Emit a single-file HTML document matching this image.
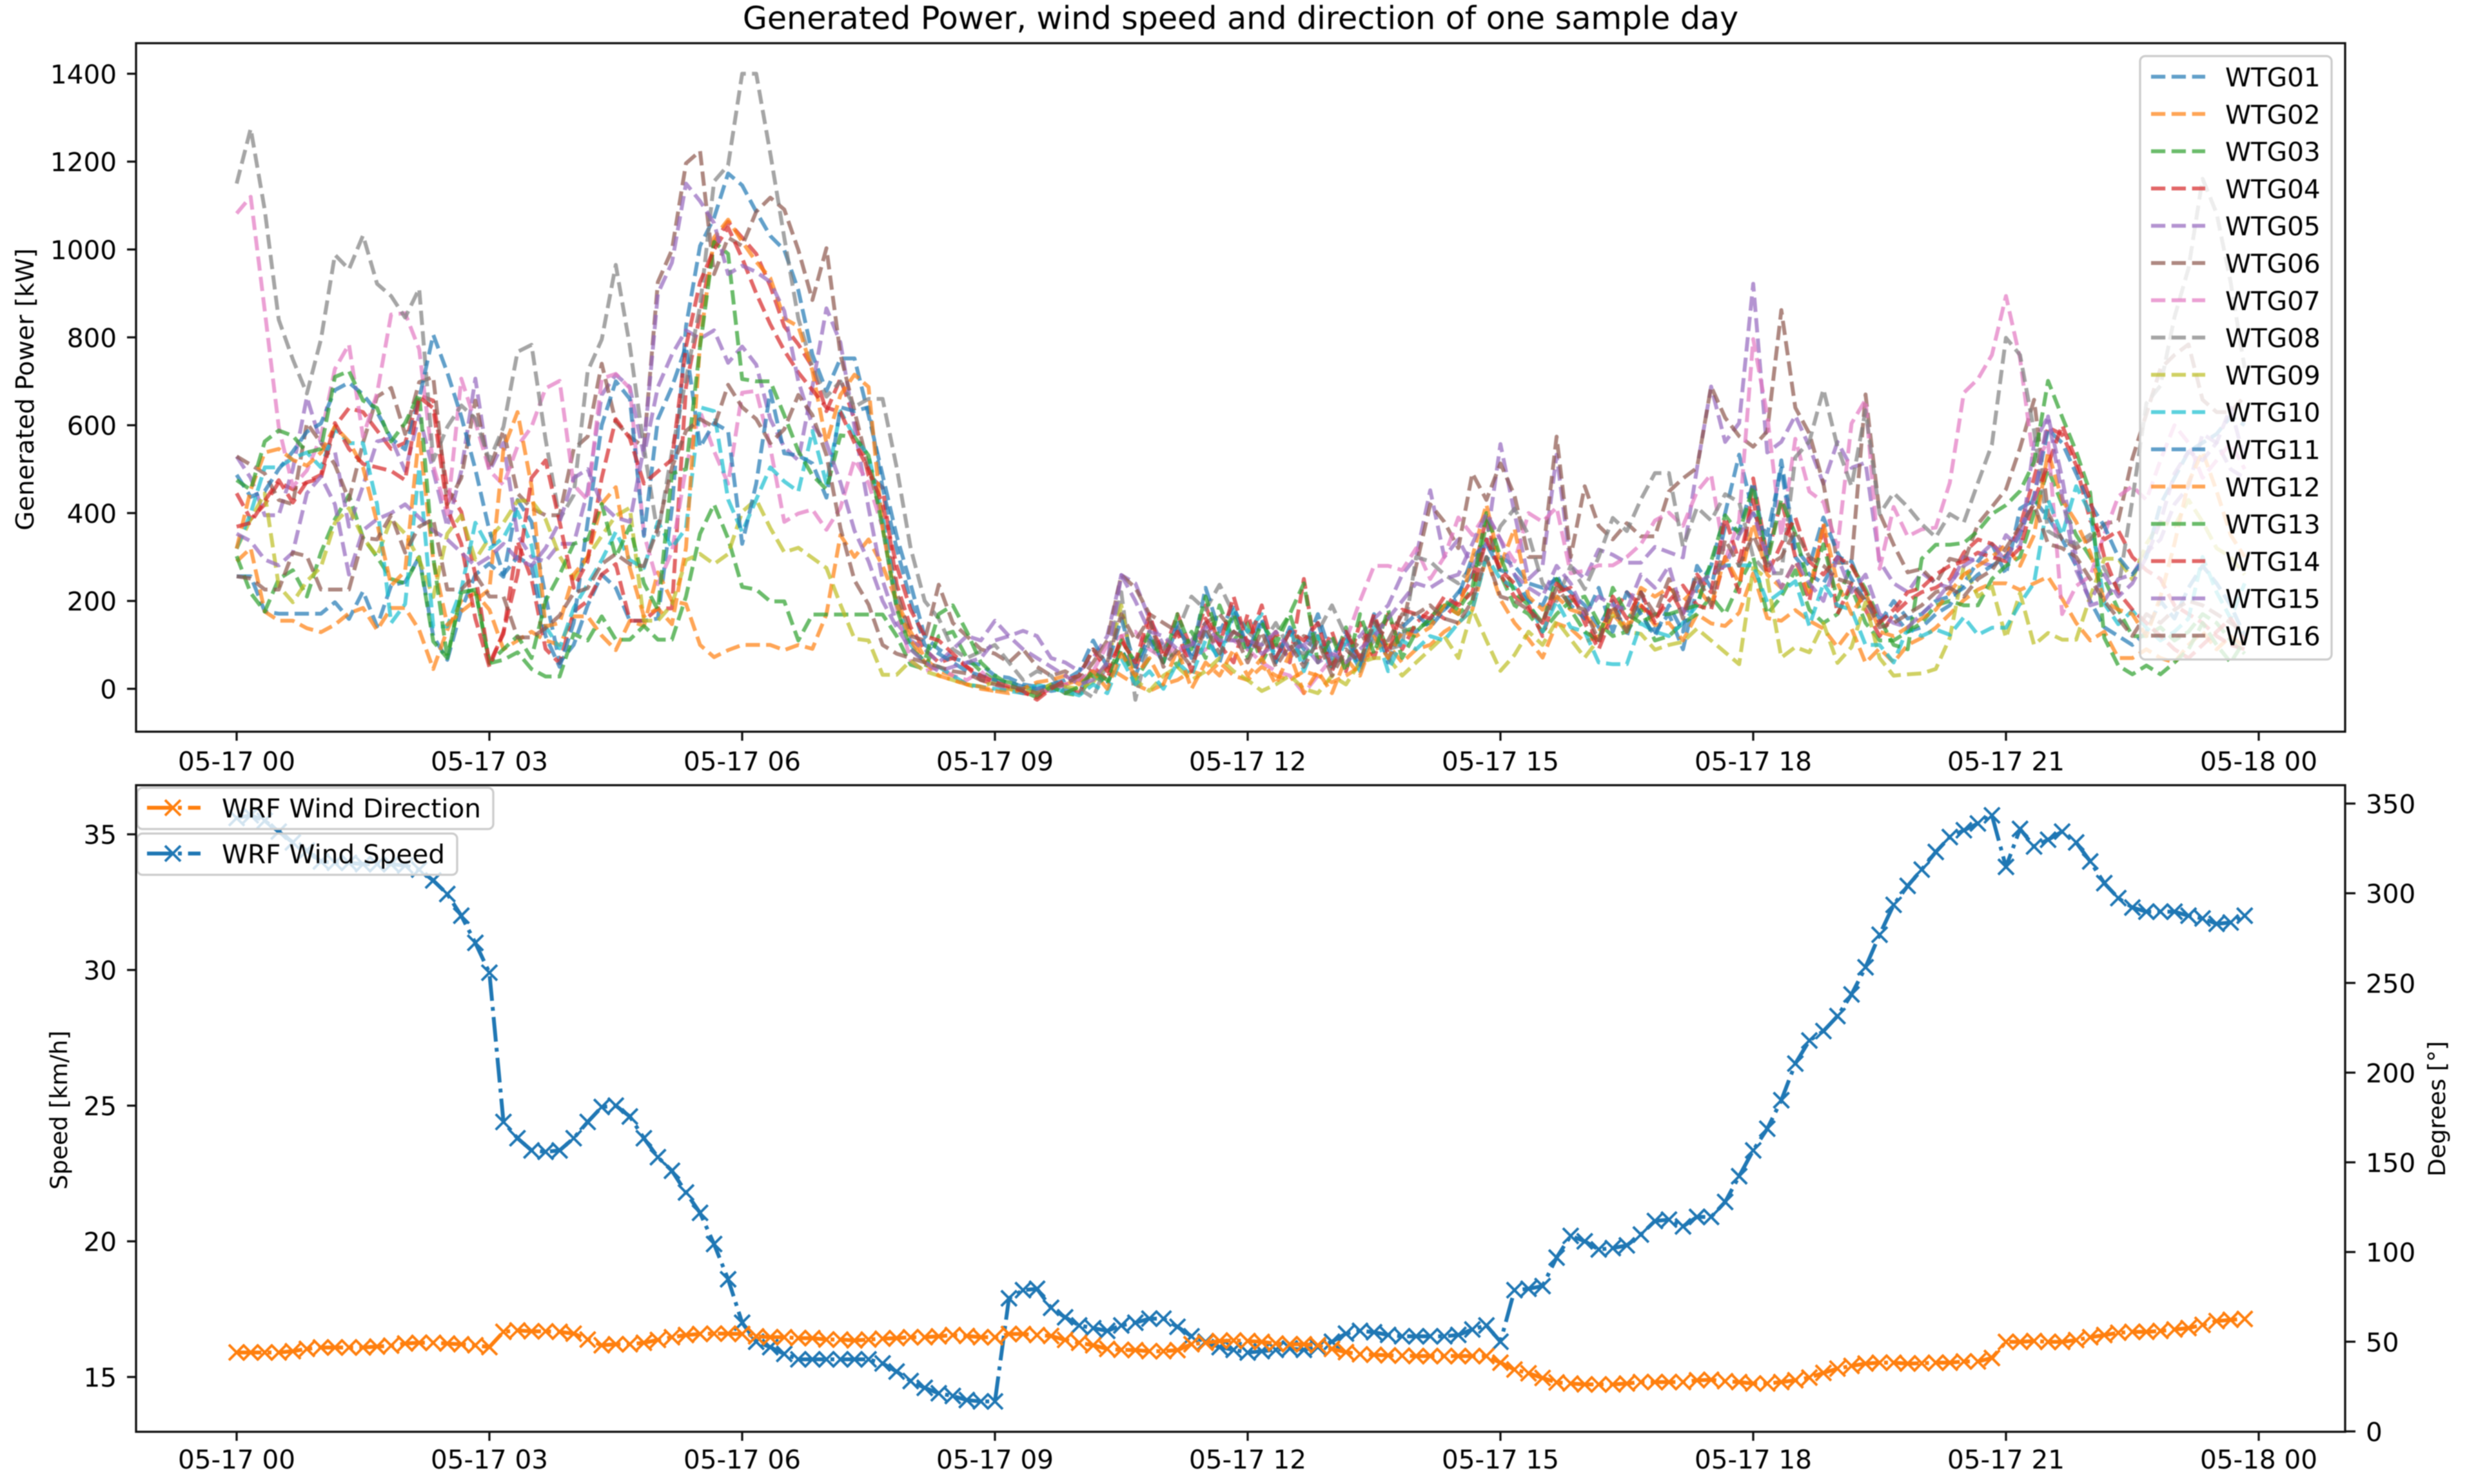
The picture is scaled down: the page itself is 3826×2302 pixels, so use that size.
<!DOCTYPE html>
<html lang="en">
<head>
<meta charset="utf-8">
<title>Generated Power, wind speed and direction of one sample day</title>
<style>
html,body{margin:0;padding:0;background:#fff;}
#figure{display:block;width:3826px;height:2302px;filter:blur(0.9px);font-family:"DejaVu Sans","Liberation Sans",sans-serif;fill:#000;}
text{font-family:"DejaVu Sans","Liberation Sans",sans-serif;}
</style>
</head>
<body>
<svg id="figure" xmlns="http://www.w3.org/2000/svg" width="3826" height="2302" viewBox="0 0 3826 2302">
  <defs>
    <clipPath id="clip-top"><rect x="211" y="67" width="3426" height="1068"/></clipPath>
    <clipPath id="clip-bottom"><rect x="211" y="1218" width="3426" height="1003"/></clipPath>
  </defs>
  <rect width="3826" height="2302" fill="#fff"/>
  <text x="1924" y="45" text-anchor="middle" font-size="49.1">Generated Power, wind speed and direction of one sample day</text>
  <g id="power-lines" clip-path="url(#clip-top)"></g>
  <g id="power-legend"></g>
  <g id="wind-lines" clip-path="url(#clip-bottom)"></g>
  <g id="wind-legend"></g>
  <g id="axes"></g>
  <text transform="translate(52,604) rotate(-90)" text-anchor="middle" font-size="38.7">Generated Power [kW]</text>
  <text transform="translate(104,1722) rotate(-90)" text-anchor="middle" font-size="36.5">Speed [km/h]</text>
  <text transform="translate(3792,1720) rotate(-90)" text-anchor="middle" font-size="36.5">Degrees [°]</text>
</svg>
<script>
const xTickLabels = ["05-17 00","05-17 03","05-17 06","05-17 09","05-17 12","05-17 15","05-17 18","05-17 21","05-18 00"];
const xTickHours = [0,3,6,9,12,15,18,21,24];
const powerTicks = [0,200,400,600,800,1000,1200,1400];
const speedTicks = [15,20,25,30,35];
const degreeTicks = [0,50,100,150,200,250,300,350];
const sampleMinutes = 10;

const wtg01 = [
256,256,176,171,171,171,171,197,159,222,142,235,
243,300,120,66,180,260,285,255,430,380,210,60,
100,190,260,230,155,155,160,412,825,1008,1072,1173,
1146,1086,1031,999,907,761,678,752,752,623,486,348,
238,119,90,70,60,55,30,25,10,5,-5,0,
-5,40,10,90,30,110,60,140,70,130,60,170,
90,160,70,130,60,150,50,120,40,130,70,130,
130,160,180,220,260,330,300,280,240,230,250,220,
190,140,200,120,220,130,170,90,230,280,400,533,
400,350,502,300,260,240,300,290,210,160,170,130,
140,170,190,240,290,330,260,410,430,390,340,280,
200,140,120,100,130,200,160,230,280,240,190,120];
const wtg02 = [
290,320,176,155,155,138,129,146,172,184,134,184,
184,134,45,134,201,218,180,90,110,130,110,100,
165,165,121,88,155,143,265,200,193,100,72,88,
100,100,100,88,100,91,170,350,300,340,280,200,
130,70,40,30,10,0,-5,0,-10,-5,0,10,
20,30,50,30,10,-5,10,20,40,30,60,30,
20,50,30,20,40,30,15,30,50,90,100,60,
90,100,130,150,180,300,203,150,113,71,149,137,
107,120,170,135,190,145,150,110,170,149,143,173,
263,161,155,179,155,137,95,137,59,92,60,100,
116,139,170,202,226,240,240,225,240,255,205,150,
110,130,70,70,90,70,60,100,130,90,120,95];
const wtg03 = [
302,218,176,250,270,210,310,386,441,344,300,250,
240,300,108,70,218,226,58,66,83,45,28,28,
125,110,165,112,112,143,112,112,210,353,420,342,
232,226,199,199,110,169,169,169,169,169,169,120,
55,45,120,130,70,40,20,15,5,-5,10,-10,
-15,30,10,90,20,70,110,50,130,70,190,110,
150,60,120,170,70,120,50,140,60,160,90,130,
140,150,190,170,200,380,260,190,170,130,170,200,
210,150,120,130,180,110,120,150,170,210,170,240,
300,170,210,270,180,150,170,230,150,110,110,130,
150,190,200,190,190,250,280,300,400,500,420,350,
300,250,180,120,120,140,110,130,170,150,110,80];
const wtg04 = [
445,386,420,470,454,470,479,597,639,630,588,546,
560,668,656,454,403,260,58,125,336,250,91,58,
176,200,260,284,155,155,183,183,687,852,1017,1063,
1027,990,917,825,784,733,632,706,614,486,458,238,
140,90,60,70,50,20,10,0,-10,-15,0,10,
-10,50,20,120,40,150,80,170,90,190,100,60,
170,70,130,60,250,60,130,40,150,70,170,90,
150,180,160,200,250,390,260,210,190,120,220,230,
150,90,170,220,190,160,200,235,190,180,300,220,
479,300,430,300,200,370,170,240,180,120,170,200,
220,230,250,310,340,330,300,370,480,595,579,509,
383,340,360,300,270,250,190,170,150,120,100,90];
const wtg05 = [
529,480,395,395,500,664,560,540,369,462,563,570,
496,622,496,369,496,706,496,560,350,300,290,330,
330,450,669,715,687,531,687,761,816,797,816,742,
779,738,614,550,520,687,866,788,596,412,247,150,
110,90,60,90,120,110,155,120,132,120,70,60,
40,70,120,259,240,160,100,80,110,150,100,130,
110,80,100,70,110,90,110,100,120,160,190,260,
300,452,300,340,280,330,557,400,250,280,533,280,
250,317,305,287,287,323,311,299,503,688,562,605,
922,538,562,622,551,467,562,503,515,290,240,220,
265,240,230,300,290,280,350,320,560,620,480,300,
190,200,250,260,310,340,420,460,580,560,500,480];
const wtg06 = [
529,510,490,430,420,605,560,510,430,560,665,685,
580,698,710,420,480,656,500,588,445,411,395,395,
546,574,740,607,574,550,926,999,1196,1224,944,1027,
1008,1086,1118,1091,999,885,1003,761,632,504,380,220,
120,110,237,150,120,90,80,60,90,50,30,40,
20,60,110,259,230,170,150,130,100,150,170,130,
110,90,100,90,120,110,60,70,110,130,160,140,
280,420,380,320,491,430,513,440,300,300,574,300,
461,371,340,377,347,347,449,479,503,688,617,575,
551,586,862,640,581,467,287,287,670,400,328,265,
273,240,296,288,375,414,454,548,658,400,340,320,
340,375,383,524,626,729,760,784,658,630,630,666];
const wtg07 = [
1082,1120,861,596,460,497,574,728,784,574,673,852,
855,773,508,397,706,607,497,464,552,596,684,701,
464,430,706,717,684,353,238,312,504,632,541,467,
674,678,550,380,399,408,362,412,522,468,367,183,
64,40,50,30,20,40,10,0,-10,0,-5,10,
20,40,100,120,130,90,70,100,70,90,120,110,
90,60,40,30,-10,30,70,110,200,280,280,270,
320,250,300,390,350,400,340,290,400,380,413,263,
269,281,281,300,329,383,401,371,449,488,293,383,
796,622,347,569,449,425,323,604,658,273,414,347,
363,367,469,674,705,760,894,752,509,564,170,234,
257,351,438,461,430,520,600,560,480,520,560,500];
const wtg08 = [
1150,1275,1090,840,750,672,795,988,955,1032,922,894,
845,911,520,596,645,615,520,596,767,783,568,386,
441,723,795,965,780,550,350,540,706,871,1155,1192,
1400,1400,1219,1027,843,733,665,700,642,660,660,504,
320,200,160,90,70,85,100,60,20,40,30,-10,
0,-20,60,220,-25,110,90,130,210,180,237,170,
130,100,150,90,80,130,190,120,70,110,90,100,
300,290,260,240,280,290,370,410,350,240,200,280,
227,300,389,359,431,491,491,323,413,383,443,425,
300,263,263,527,563,682,551,461,634,398,446,414,
375,345,398,379,469,556,799,760,587,359,340,330,
351,273,226,430,650,690,846,957,1161,1082,925,730];
const wtg09 = [
319,386,445,234,197,245,277,378,411,344,302,386,
353,294,209,353,395,294,344,378,428,428,386,302,
251,300,348,394,412,155,155,192,293,307,284,307,
403,431,366,311,321,298,275,192,114,110,32,32,
64,40,30,20,10,5,15,0,-5,-10,10,5,
0,15,60,190,20,-5,30,50,20,40,70,40,
20,-5,10,30,0,-10,30,10,60,70,70,30,
60,90,120,70,182,110,41,77,130,100,155,113,
71,113,170,130,125,89,100,107,137,110,83,56,
275,251,71,95,83,149,59,95,197,70,30,33,
35,45,116,281,210,233,116,218,100,127,112,112,
210,296,296,249,330,380,370,430,380,320,300,260];
const wtg10 = [
319,400,504,504,525,538,504,592,559,559,420,150,
193,504,142,142,226,378,319,344,403,327,142,92,
184,238,293,357,293,275,380,321,366,641,632,431,
357,431,504,472,449,587,467,632,573,531,394,192,
101,60,50,30,10,5,0,-5,-10,10,0,-5,
-15,10,-10,70,10,40,0,60,30,110,70,180,
130,170,60,140,40,120,40,110,40,140,40,110,
90,120,110,150,180,300,250,230,200,130,200,140,
130,60,56,56,149,130,120,150,190,281,281,281,
281,197,221,245,143,240,190,180,100,100,60,139,
120,135,123,163,123,139,139,194,241,430,350,461,
400,194,147,178,139,110,130,160,300,220,160,240];
const wtg11 = [
487,437,450,500,540,585,604,680,697,670,630,570,
545,660,806,720,620,500,360,260,300,280,120,50,
150,380,600,700,660,348,614,687,779,550,605,587,
330,467,678,536,531,513,435,641,632,641,458,320,
200,100,80,60,40,30,20,15,5,0,10,20,
40,110,50,160,50,120,60,150,70,230,130,190,
90,150,60,140,90,170,70,130,50,170,60,140,
170,140,180,210,300,330,270,260,200,190,260,190,
160,230,130,220,170,120,190,130,280,230,370,360,
470,300,520,320,280,390,310,250,200,150,200,160,
170,200,210,230,260,280,300,350,440,590,560,490,
420,370,300,260,300,420,480,540,560,580,620,600];
const wtg12 = [
319,453,538,546,521,508,538,597,563,504,378,235,
268,580,293,146,176,201,226,546,630,462,142,150,
260,300,421,459,275,165,183,147,321,788,1027,1068,
1018,972,935,843,825,724,559,669,715,687,366,192,
110,60,30,20,10,5,-5,-10,0,15,20,30,
10,40,0,80,30,70,10,90,0,60,30,90,
30,70,10,80,-10,40,-10,70,30,120,70,130,
120,140,190,170,300,420,280,365,210,180,210,180,
170,130,180,140,230,210,230,200,230,190,300,240,
377,260,230,290,220,377,240,170,220,130,120,140,
160,180,220,260,280,300,328,280,350,540,430,380,
310,200,180,170,120,210,330,470,540,450,350,300];
const wtg13 = [
475,453,563,588,576,538,546,710,723,656,639,563,
605,672,300,70,220,225,60,90,120,70,200,260,
330,340,421,300,370,240,180,490,500,779,1017,990,
705,700,700,623,541,486,454,577,573,531,366,183,
91,64,170,190,130,60,30,10,-5,-20,5,-10,
5,40,20,110,60,130,60,170,90,210,110,170,
70,150,100,170,240,60,120,40,170,80,180,70,
130,160,200,180,230,400,300,220,190,150,250,180,
130,110,230,170,150,170,170,180,190,290,395,353,
461,287,431,353,233,329,203,281,227,160,100,90,
296,328,328,332,359,398,418,450,516,701,619,540,
446,116,53,33,53,33,60,90,150,100,60,110];
const wtg14 = [
369,378,428,475,424,471,487,605,546,512,504,496,
475,664,639,411,330,160,50,130,260,480,520,380,
230,290,480,614,570,467,495,522,779,926,1000,1050,
980,900,830,770,720,680,640,630,560,500,420,280,
180,120,110,80,50,30,15,5,-5,-25,0,20,
30,90,40,110,60,170,70,130,40,160,100,210,
100,190,70,130,110,150,40,130,70,170,80,180,
170,160,210,190,220,340,270,240,180,150,240,210,
170,100,210,160,220,150,230,170,260,220,390,290,
430,260,330,390,290,260,300,280,220,150,180,220,
230,260,280,290,310,300,290,320,430,510,600,520,
430,300,220,180,150,120,90,70,100,130,160,110];
const wtg15 = [
353,336,294,281,310,445,483,420,260,361,386,400,
420,390,360,340,310,280,300,330,295,280,320,380,
480,500,420,390,380,550,900,970,1150,1110,1060,944,
963,949,926,860,700,600,560,470,360,290,200,140,
90,60,40,50,60,70,110,120,90,70,50,30,
10,20,60,259,200,130,120,90,100,140,110,110,
110,100,130,90,100,60,80,60,90,120,160,200,
240,230,250,260,330,400,340,260,230,210,280,240,
170,210,190,180,260,230,280,170,240,260,280,350,
400,300,230,290,240,200,300,220,260,170,150,140,
170,200,240,280,300,330,290,360,430,620,440,270,
200,260,210,240,300,380,490,540,520,560,640,520];
const wtg16 = [
256,251,226,226,310,302,226,226,226,344,340,395,
310,369,386,226,226,260,210,210,117,117,138,167,
218,229,284,307,284,279,366,504,587,614,596,692,
641,614,559,591,669,623,532,366,247,192,100,80,
70,60,50,40,35,20,10,5,0,-10,5,10,
30,90,60,170,110,160,50,90,50,140,80,130,
60,130,50,100,50,110,30,90,60,150,110,170,
170,190,160,150,200,300,210,200,180,150,230,190,
180,110,190,130,220,170,250,160,260,190,340,280,
350,280,300,360,300,280,250,240,200,140,150,170,
190,220,230,210,250,270,320,370,420,330,320,300,
250,200,160,120,170,150,180,200,190,170,150,130];

const windSpeed = [
35.6,35.7,35.5,35.1,34.7,34.4,34.0,33.95,33.95,33.9,33.9,33.9,
33.85,33.7,33.3,32.8,32.0,31.0,29.9,24.4,23.8,23.35,23.3,23.35,
23.8,24.4,24.95,25.0,24.6,23.8,23.1,22.6,21.8,21.05,19.9,18.6,
17.0,16.3,16.1,15.85,15.65,15.65,15.65,15.65,15.65,15.65,15.5,15.2,
14.85,14.6,14.4,14.3,14.15,14.1,14.1,17.9,18.2,18.25,17.55,17.2,
16.9,16.8,16.7,16.9,17.0,17.15,17.15,16.85,16.5,16.3,16.1,16.0,
15.9,15.95,16.0,16.05,16.0,16.1,16.3,16.6,16.7,16.65,16.55,16.5,
16.5,16.5,16.5,16.55,16.75,16.9,16.3,18.2,18.25,18.35,19.4,20.2,
20.0,19.7,19.75,19.85,20.25,20.75,20.8,20.55,20.9,20.9,21.45,22.4,
23.35,24.15,25.2,26.55,27.4,27.75,28.3,29.1,30.1,31.3,32.4,33.1,
33.7,34.35,34.9,35.15,35.4,35.7,33.8,35.2,34.55,34.8,35.1,34.7,
34.0,33.2,32.65,32.3,32.15,32.15,32.15,32.0,31.9,31.7,31.75,32.0];
const windDirection = [
44,44,44,44,44.7,46,46.8,46.8,46.8,46.8,47.3,47.8,
49,49.4,49.4,49,48.6,48,47,55.5,56.3,55.8,55.8,55.5,
54.5,51.2,48,48.6,48.6,49.4,51,52.5,53.7,54.3,54.5,54.5,
54.3,53,52.5,52.5,52,52,51.2,51.2,50.7,51.2,51.7,52,
52.5,52.5,53,53.7,53.2,52.5,52.5,54.3,54.3,53.7,53.2,51,
49.4,48,46,45.5,45.3,44.7,44.7,45.3,48.6,49.4,50.4,50.7,
50.4,49.9,49,48.6,48.6,48,46,44.2,43,42.7,42.4,42.2,
42,42,42,42,42,42,38.3,34.5,32.4,29.8,27.3,26.7,
26.2,26.2,26.2,26.7,27.5,27.5,27.5,27.5,28.5,28.8,28,27.5,
26.7,26.7,27.5,28.5,30,32.6,35,36.5,37.8,38.3,38.3,37.8,
38,38.3,38.3,39,39,40.9,49.9,49.9,50.4,49.9,49.9,50.9,
52.5,53.7,55,55.5,55.5,56,56.8,57.6,59.4,61.5,62.2,62.7];

const seriesNames = ["WTG01","WTG02","WTG03","WTG04","WTG05","WTG06","WTG07","WTG08","WTG09","WTG10","WTG11","WTG12","WTG13","WTG14","WTG15","WTG16"];
const seriesValues = [wtg01,wtg02,wtg03,wtg04,wtg05,wtg06,wtg07,wtg08,wtg09,wtg10,wtg11,wtg12,wtg13,wtg14,wtg15,wtg16];
const palette = ["#1f77b4","#ff7f0e","#2ca02c","#d62728","#9467bd","#8c564b","#e377c2","#7f7f7f","#bcbd22","#17becf"];

const SVGNS = "http://www.w3.org/2000/svg";
function xOfHours(h){ return 367 + h * 130.667; }
function yPower(v){ return 1068.5 - v * 0.6815; }
function ySpeed(v){ return 2136 - (v - 15) * 42.09; }
function yDegrees(v){ return 2220.4 - v * 2.7826; }
function make(tag, attrs){
  const el = document.createElementNS(SVGNS, tag);
  for (const k in attrs) el.setAttribute(k, attrs[k]);
  return el;
}
function seriesPoints(values, yFn){
  return values.map(function(v, i){
    return xOfHours(i * sampleMinutes / 60).toFixed(1) + "," + yFn(v).toFixed(1);
  }).join(" ");
}

const powerGroup = document.getElementById("power-lines");
seriesValues.forEach(function(values, s){
  const line = make("polyline", {points: seriesPoints(values, yPower), fill: "none", stroke: palette[s % 10], "stroke-width": 6, "stroke-opacity": 0.7, "stroke-dasharray": "22.2 9.6", "stroke-linejoin": "round"});
  
  
  powerGroup.appendChild(line);
});

const powerLegend = document.getElementById("power-legend");
const powerLegendBox = make("rect", {x: 3319, y: 87, width: 297, height: 936, rx: 8, fill: "#fff", "fill-opacity": 0.8, stroke: "#cccccc", "stroke-width": 3.3});


powerLegend.appendChild(powerLegendBox);
seriesNames.forEach(function(name, s){
  const rowY = 119 + s * 57.8;
  const entry = make("g", {});
  
  
  entry.appendChild(make("line", {x1: 3336, x2: 3420, y1: rowY, y2: rowY, stroke: palette[s % 10], "stroke-width": 6, "stroke-opacity": 0.7, "stroke-dasharray": "22.2 9.6"}));
  const label = make("text", {x: 3451, y: rowY + 15, "font-size": 40.5});
  label.textContent = name;
  entry.appendChild(label);
  powerLegend.appendChild(entry);
});

const windGroup = document.getElementById("wind-lines");
function drawWind(values, yFn, color, name){
  const g = make("g", {});
  
  
  g.appendChild(make("polyline", {points: seriesPoints(values, yFn), fill: "none", stroke: color, "stroke-width": 6, "stroke-dasharray": "38.4 9.6 6 9.6", "stroke-linejoin": "round"}));
  values.forEach(function(v, i){
    const cx = xOfHours(i * sampleMinutes / 60);
    const cy = yFn(v);
    g.appendChild(make("path", {d: "M" + (cx - 12) + " " + (cy - 12) + "L" + (cx + 12) + " " + (cy + 12) + "M" + (cx - 12) + " " + (cy + 12) + "L" + (cx + 12) + " " + (cy - 12), stroke: color, "stroke-width": 4, fill: "none"}));
  });
  windGroup.appendChild(g);
}
drawWind(windSpeed, ySpeed, "#1f77b4", "wind-speed-line");
drawWind(windDirection, yDegrees, "#ff7f0e", "wind-direction-line");

const windLegend = document.getElementById("wind-legend");
function drawWindLegend(label, color, boxY, boxW, name){
  const g = make("g", {});
  
  
  g.appendChild(make("rect", {x: 213, y: boxY, width: boxW, height: 64, rx: 8, fill: "#fff", "fill-opacity": 0.8, stroke: "#cccccc", "stroke-width": 3.3}));
  const cy = boxY + 31;
  g.appendChild(make("line", {x1: 228, x2: 311, y1: cy, y2: cy, stroke: color, "stroke-width": 6, "stroke-dasharray": "38.4 9.6 6 9.6"}));
  g.appendChild(make("path", {d: "M256 " + (cy - 12) + "L280 " + (cy + 12) + "M256 " + (cy + 12) + "L280 " + (cy - 12), stroke: color, "stroke-width": 4, fill: "none"}));
  const t = make("text", {x: 344, y: cy + 15, "font-size": 40.5});
  t.textContent = label;
  g.appendChild(t);
  windLegend.appendChild(g);
}
drawWindLegend("WRF Wind Direction", "#ff7f0e", 1222, 552, "legend-entry-wind-direction");
drawWindLegend("WRF Wind Speed", "#1f77b4", 1293, 496, "legend-entry-wind-speed");

const axes = document.getElementById("axes");
function frame(y, h, name){
  const r = make("rect", {x: 211, y: y, width: 3426, height: h, fill: "none", stroke: "#111", "stroke-width": 3.3});
  
  
  axes.appendChild(r);
}
frame(67, 1068, "power-axes-frame");
frame(1218, 1003, "wind-axes-frame");

function xTicks(axisY, baseline, name){
  xTickHours.forEach(function(h, i){
    const x = xOfHours(h);
    const t = make("line", {x1: x, x2: x, y1: axisY, y2: axisY + 14, stroke: "#111", "stroke-width": 3.3});
    
    
    axes.appendChild(t);
    const l = make("text", {x: x, y: baseline, "text-anchor": "middle", "font-size": 40.5});
    l.textContent = xTickLabels[i];
    
    
    axes.appendChild(l);
  });
}
xTicks(1135, 1195, "power-x-axis");
xTicks(2221, 2278, "wind-x-axis");

function yTicksLeft(ticks, yFn, name){
  ticks.forEach(function(v){
    const y = yFn(v);
    const t = make("line", {x1: 197, x2: 211, y1: y, y2: y, stroke: "#111", "stroke-width": 3.3});
    
    
    axes.appendChild(t);
    const l = make("text", {x: 181, y: y + 15, "text-anchor": "end", "font-size": 40.5});
    l.textContent = String(v);
    
    
    axes.appendChild(l);
  });
}
yTicksLeft(powerTicks, yPower, "power-y-axis");
yTicksLeft(speedTicks, ySpeed, "speed-y-axis");

degreeTicks.forEach(function(v){
  const y = yDegrees(v);
  const t = make("line", {x1: 3637, x2: 3653, y1: y, y2: y, stroke: "#111", "stroke-width": 3.3});
  
  
  axes.appendChild(t);
  const l = make("text", {x: 3669, y: y + 15, "font-size": 40.5});
  l.textContent = String(v);
  
  
  axes.appendChild(l);
});
</script>
</body>
</html>
